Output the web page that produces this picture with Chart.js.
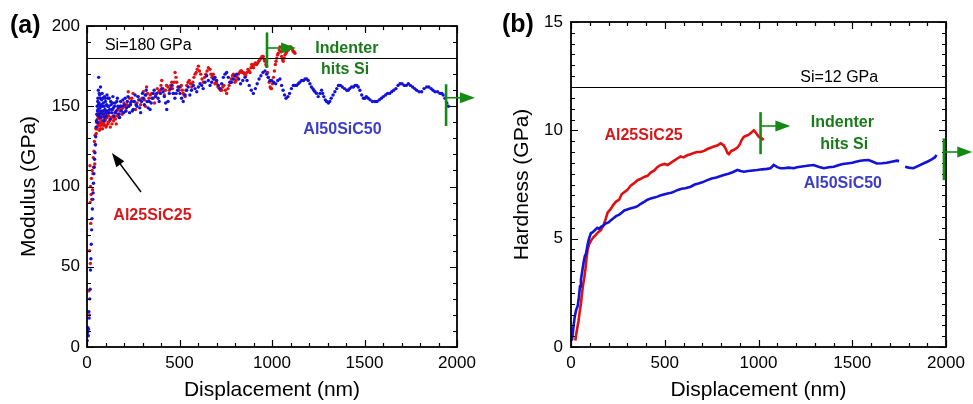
<!DOCTYPE html>
<html>
<head>
<meta charset="utf-8">
<title>Modulus and hardness vs displacement</title>
<script src="https://cdn.jsdelivr.net/npm/chart.js@4.4.1/dist/chart.umd.min.js"></script>
<style>
  body { margin: 0; background: #fff; }
  #wrap { position: relative; width: 973px; height: 404px; overflow: hidden; }
  canvas { position: absolute; top: 0; }
</style>
</head>
<body>
<div id="wrap">
  <canvas id="modChart" width="486" height="404" style="left:0"></canvas>
  <canvas id="hardChart" width="487" height="404" style="left:486px"></canvas>
</div>
<script>
// ---- axes ----
const xTicks = [0, 500, 1000, 1500, 2000];
const modulusTicks = [0, 50, 100, 150, 200];
const hardnessTicks = [0, 5, 10, 15];
const siModulus = 180;   // GPa
const siHardness = 12;   // GPa

// ---- (a) modulus, [displacement nm, GPa] ----
const modulusAl50 = [
  [1,4],[3,9],[5,12],[7,7],[8,11],[10,22],[12,18],[15,30],[17,36],[19,48],[21,55],[23,64],[25,73],[27,80],
  [29,86],[31,92],[33,96],[35,102],[37,108],[39,112],[41,117],[43,121],[45,126],[47,131],[49,137],[51,141],
  [53,145],[55,150],[56,140],[57,147],[58,153],[59,155],[60,148],[61,160],[62,151],[63,168],[64,144],[65,152],
  [66,158],[67,145],[68,150],[69,157],[70,143],[71,149],[72,155],[73,162],[74,147],[76,143],[77,151],[79,154],
  [80,146],[82,158],[83,150],[85,147],[86,155],[88,152],[90,145],[91,141],[93,150],[94,156],[96,143],[97,148],
  [99,155],[100,153],[102,146],[104,144],[106,151],[108,157],[110,147],[112,150],[114,155],[116,146],[118,150],
  [120,155],[122,148],[125,142],[128,153],[130,151],[133,146],[135,148],[138,152],[140,156],[143,149],[146,144],
  [149,150],[152,152],[155,146],[158,147],[161,153],[164,155],[167,150],[170,149],[173,145],[176,143],[179,150],
  [182,153],[186,147],[190,150],[194,154],[198,146],[202,151],[206,155],[210,147],[214,149],[218,153],[222,156],
  [226,150],[230,146],[235,151],[240,153],[245,147],[250,148],[255,153],[260,157],[265,151],[270,150],[275,156],
  [280,154],[285,149],[290,146],[295,153],[300,158],[305,155],[310,151],[315,157],[320,160],[325,153],[330,149],
  [336,153],[341,148],[347,152],[352,155],[358,158],[363,160],[370,156],[377,158],[384,155],[390,153],[397,158],
  [404,161],[411,159],[418,156],[425,152],[431,148],[438,153],[445,158],[452,161],[460,163],[467,158],[475,155],
  [482,158],[490,160],[497,162],[503,158],[511,155],[520,153],[530,157],[539,160],[547,162],[556,157],[565,160],
  [575,163],[584,161],[593,159],[602,162],[611,164],[620,163],[628,161],[638,165],[647,169],[656,166],[665,163],
  [674,165],[683,167],[692,168],[701,166],[710,163],[720,161],[728,164],[737,168],[746,170],[755,171],[764,168],
  [772,165],[781,165],[790,167],[800,169],[809,170],[820,167],[830,164],[842,166],[854,168],[865,166],[877,163],
  [888,160],[899,158],[910,161],[920,164],[930,167],[940,169],[951,171],[962,172],[971,170],[980,168],[989,166],
  [998,166],[1009,165],[1020,164],[1031,166],[1043,167],[1052,163],[1060,160],[1068,157],[1076,155],[1086,156],
  [1095,158],[1105,161],[1115,163],[1124,163],[1133,163],[1142,164],[1150,165],[1160,166],[1170,166],[1179,167],
  [1187,167],[1196,166],[1205,164],[1213,162],[1220,161],[1226,160],[1232,159],[1241,158],[1250,156],[1259,158],
  [1268,160],[1274,158],[1280,156],[1288,154],[1295,153],[1305,152],[1312,153],[1320,155],[1330,157],[1340,159],
  [1350,161],[1359,163],[1370,163],[1380,162],[1392,161],[1404,160],[1412,160],[1420,161],[1430,162],[1440,162],
  [1449,163],[1458,163],[1466,162],[1475,160],[1485,157],[1494,155],[1502,155],[1510,156],[1520,155],[1530,154],
  [1543,153],[1557,153],[1568,153],[1580,154],[1591,155],[1602,156],[1614,157],[1625,158],[1636,158],[1647,159],
  [1658,160],[1670,161],[1681,163],[1692,164],[1703,164],[1715,163],[1726,163],[1737,164],[1748,163],[1760,162],
  [1771,161],[1782,160],[1795,159],[1809,159],[1822,161],[1836,162],[1848,162],[1860,161],[1870,160],[1881,159],
  [1895,159],[1908,158],[1918,158],[1925,157],[1935,155],[1945,152],[1953,150]
];
const modulusAl25 = [
  [10,35],[12,20],[14,60],[16,113],[17,90],[18,52],[19,100],[20,77],[22,95],[24,105],[26,92],[28,110],[30,98],
  [32,108],[34,118],[36,112],[38,122],[40,128],[42,114],[44,132],[46,126],[48,136],[50,133],[52,140],[54,136],
  [55,137],[57,142],[58,144],[60,138],[61,139],[63,143],[64,146],[66,139],[67,135],[69,140],[70,142],[72,136],
  [73,138],[75,143],[76,145],[78,139],[80,141],[82,144],[84,136],[86,140],[88,144],[90,138],[92,139],[94,143],
  [96,147],[98,141],[100,142],[103,137],[105,138],[108,143],[110,145],[113,139],[115,140],[118,144],[120,146],
  [123,141],[126,137],[129,142],[132,143],[135,139],[138,148],[141,144],[144,141],[147,143],[150,146],[154,142],
  [158,139],[162,144],[166,148],[170,145],[174,143],[178,147],[182,150],[186,148],[190,145],[195,149],[200,152],
  [205,150],[210,147],[216,151],[223,150],[223,159],[229,155],[235,152],[242,155],[249,158],[255,153],[262,148],
  [270,152],[277,156],[284,154],[290,151],[297,155],[304,159],[310,154],[315,150],[319,157],[322,162],[328,158],
  [335,155],[342,157],[350,158],[358,155],[365,152],[372,157],[380,161],[388,159],[395,160],[400,163],[404,166],
  [411,161],[418,157],[424,160],[430,163],[438,162],[445,160],[452,163],[458,165],[462,161],[466,158],[471,165],
  [476,171],[481,168],[485,165],[491,162],[497,160],[504,162],[510,163],[515,160],[520,158],[525,157],[530,156],
  [535,160],[539,163],[546,165],[553,166],[560,164],[566,162],[572,165],[578,168],[584,170],[590,171],[596,173],
  [602,175],[608,172],[615,170],[622,167],[629,165],[636,168],[642,170],[649,172],[656,174],[665,173],[670,170],
  [675,168],[679,169],[683,170],[688,167],[692,164],[697,165],[701,164],[708,162],[715,161],[722,160],[728,160],
  [734,162],[740,163],[748,160],[755,158],[762,161],[768,163],[774,165],[780,167],[786,169],[791,170],[796,167],
  [800,165],[806,166],[812,168],[818,170],[825,171],[830,172],[836,172],[840,171],[845,171],[852,170],[858,169],
  [864,171],[870,173],[876,172],[881,171],[886,174],[890,176],[895,175],[900,174],[905,176],[910,177],[917,176],
  [923,177],[928,178],[934,179],[940,180],[946,181],[953,181],[958,179],[962,178],[967,176],[971,175],[976,171],
  [980,168],[985,165],[990,162],[994,161],[998,161],[1003,164],[1008,168],[1013,172],[1018,176],[1022,178],
  [1026,180],[1030,182],[1034,183],[1039,185],[1043,187],[1048,184],[1052,181],[1057,179],[1061,178],[1066,180],
  [1070,182],[1075,183],[1079,184],[1084,185],[1088,185],[1093,186],[1097,187],[1102,187],[1106,186],[1111,185],
  [1115,184],[1120,184],[1124,183]
];

// ---- (b) hardness, [displacement nm, GPa] ----
const hardnessAl50 = [
  [5,0.3],[9,0.6],[14,1.0],[20,1.4],[27,1.7],[36,1.9],[42,2.3],[48,2.8],[53,3.1],[60,3.5],[67,3.9],[74,4.2],
  [80,4.3],[88,4.7],[96,5.0],[106,5.25],[116,5.3],[128,5.4],[140,5.5],[150,5.45],[160,5.55],[172,5.6],[185,5.7],
  [200,5.75],[213,5.85],[228,5.95],[242,6.05],[256,6.1],[270,6.2],[284,6.3],[300,6.35],[320,6.4],[340,6.45],
  [355,6.5],[370,6.6],[390,6.7],[408,6.8],[425,6.85],[445,6.9],[461,6.94],[480,7.0],[500,7.05],[520,7.1],
  [535,7.12],[550,7.17],[570,7.25],[590,7.3],[610,7.33],[638,7.4],[660,7.5],[680,7.55],[700,7.6],[727,7.7],
  [750,7.78],[775,7.82],[795,7.88],[815,7.94],[840,8.0],[865,8.08],[887,8.17],[905,8.12],[922,8.09],[945,8.12],
  [970,8.15],[993,8.17],[1020,8.2],[1045,8.22],[1064,8.25],[1081,8.4],[1100,8.3],[1117,8.25],[1135,8.25],
  [1160,8.28],[1188,8.25],[1205,8.3],[1223,8.32],[1250,8.35],[1270,8.38],[1294,8.4],[1320,8.32],[1348,8.25],
  [1375,8.3],[1401,8.32],[1430,8.4],[1450,8.45],[1472,8.47],[1500,8.5],[1520,8.55],[1543,8.6],[1565,8.62],
  [1587,8.63],[1610,8.55],[1631,8.47],[1660,8.48],[1684,8.5],[1710,8.55],[1738,8.6],[1750,8.58],[1765,null],
  [1782,8.32],[1800,8.28],[1826,8.25],[1850,8.35],[1879,8.47],[1900,8.55],[1924,8.66],[1940,8.75],[1950,8.86]
];
const hardnessAl25 = [
  [23,0.3],[28,0.6],[34,0.9],[40,1.2],[46,1.6],[53,2.0],[59,2.5],[65,2.9],[71,3.2],[77,3.6],[83,4.1],[89,4.5],
  [97,4.75],[106,4.9],[118,5.05],[130,5.15],[145,5.3],[160,5.4],[172,5.6],[185,5.9],[195,6.2],[210,6.35],
  [225,6.55],[239,6.7],[257,6.8],[270,7.05],[285,7.15],[301,7.25],[318,7.45],[335,7.55],[355,7.7],[370,7.75],
  [390,7.85],[408,7.9],[425,8.05],[445,8.15],[460,8.3],[479,8.4],[500,8.45],[515,8.4],[532,8.5],[550,8.6],
  [567,8.7],[585,8.8],[600,8.75],[620,8.85],[638,8.9],[655,8.95],[672,9.0],[691,9.0],[710,9.05],[730,9.15],
  [745,9.2],[762,9.25],[780,9.3],[798,9.4],[807,9.35],[815,9.3],[825,9.15],[835,8.95],[842,8.9],[855,9.05],
  [870,9.1],[887,9.2],[900,9.35],[910,9.55],[922,9.7],[935,9.75],[948,9.8],[962,9.9],[975,10.0],[985,9.9],
  [1002,9.7],[1015,9.65],[1028,9.55]
];

// ---- annotations (data units) ----
const modulusNotes = [
  { text: "Si=180 GPa", x: 97, y: 188, kind: "plain", align: "left" },
  { text: "Indenter", x: 1405, y: 185.7, kind: "green" },
  { text: "hits Si", x: 1395, y: 173, kind: "green" },
  { text: "Al50SiC50", x: 1381, y: 135.2, kind: "blue" },
  { text: "Al25SiC25", x: 354, y: 82, kind: "red" }
];
const hardnessNotes = [
  { text: "Si=12 GPa", x: 1223, y: 12.45, kind: "plain", align: "left" },
  { text: "Indenter", x: 1447, y: 10.35, kind: "green" },
  { text: "hits Si", x: 1457, y: 9.32, kind: "green" },
  { text: "Al50SiC50", x: 1450, y: 7.52, kind: "blue" },
  { text: "Al25SiC25", x: 387, y: 9.78, kind: "red" }
];
// green "indenter hits Si" markers: bar at x from y0..y1, arrow at ay to ax
const modulusMarkers = [
  { x: 973, y0: 174, y1: 196, ay: 186.3, ax: 1130 },
  { x: 1941, y0: 137.7, y1: 163.7, ay: 155.3, ax: 2097 }
];
const hardnessMarkers = [
  { x: 1011, y0: 8.9, y1: 10.84, ay: 10.2, ax: 1170 },
  { x: 1989, y0: 7.7, y1: 9.63, ay: 9.0, ax: 2140 }
];
const modulusPointer = { x0: 292, y0: 96.6, x1: 135, y1: 120.9 };

const RED = "#e01010";
const BLUE = "#1212d8";
const GREEN = "#138a13";
const noteColors = { plain: "#000", green: "#1a7a1a", blue: "#3c3cc8", red: "#d81818" };

Chart.defaults.font.family = "'Liberation Sans', Arial, Helvetica, sans-serif";
Chart.defaults.color = "#000";

const toXY = arr => arr.map(p => ({ x: p[0], y: p[1] }));

function arrowHead(ctx, tx, ty, ang, len, half) {
  ctx.beginPath();
  ctx.moveTo(tx, ty);
  ctx.lineTo(tx - len * Math.cos(ang) + half * Math.sin(ang), ty - len * Math.sin(ang) - half * Math.cos(ang));
  ctx.lineTo(tx - len * Math.cos(ang) - half * Math.sin(ang), ty - len * Math.sin(ang) + half * Math.cos(ang));
  ctx.closePath();
  ctx.fill();
}

// frame with inward ticks on all four sides, plus notes and markers
const decor = {
  id: "decor",
  afterDraw(chart, args, o) {
    const { ctx, chartArea: a, scales: { x, y } } = chart;
    ctx.save();

    // reference line for Si
    const ys = Math.round(y.getPixelForValue(o.siLine)) + 0.5;
    ctx.strokeStyle = "#000";
    ctx.lineWidth = 1.2;
    ctx.beginPath(); ctx.moveTo(a.left, ys); ctx.lineTo(a.right, ys); ctx.stroke();

    // ticks
    ctx.lineWidth = 1.2;
    const nx = Math.round((x.max - x.min) / o.xMinor);
    for (let i = 0; i <= nx; i++) {
      const px = Math.round(x.getPixelForValue(x.min + i * o.xMinor)) + 0.5;
      const len = i % o.xEvery === 0 ? 7 : 4;
      ctx.beginPath();
      ctx.moveTo(px, a.bottom); ctx.lineTo(px, a.bottom - len);
      ctx.moveTo(px, a.top); ctx.lineTo(px, a.top + len);
      ctx.stroke();
    }
    const ny = Math.round((y.max - y.min) / o.yMinor);
    for (let i = 0; i <= ny; i++) {
      const py = Math.round(y.getPixelForValue(y.min + i * o.yMinor)) + 0.5;
      const len = i % o.yEvery === 0 ? 7 : 4;
      ctx.beginPath();
      ctx.moveTo(a.left, py); ctx.lineTo(a.left + len, py);
      ctx.moveTo(a.right, py); ctx.lineTo(a.right - len, py);
      ctx.stroke();
    }
    ctx.lineWidth = 1.8;
    ctx.strokeRect(a.left, a.top, a.right - a.left, a.bottom - a.top);

    // notes
    ctx.textBaseline = "middle";
    o.notes.forEach(n => {
      ctx.font = (n.kind === "plain" ? "" : "bold ") + "16px 'Liberation Sans', Arial, sans-serif";
      ctx.fillStyle = noteColors[n.kind];
      ctx.textAlign = n.align || "center";
      ctx.fillText(n.text, x.getPixelForValue(n.x), y.getPixelForValue(n.y));
    });

    // green markers
    ctx.strokeStyle = GREEN;
    ctx.fillStyle = GREEN;
    o.markers.forEach(m => {
      const px = x.getPixelForValue(m.x);
      const py = y.getPixelForValue(m.ay);
      const tip = x.getPixelForValue(m.ax);
      ctx.lineWidth = 2.6;
      ctx.beginPath();
      ctx.moveTo(px, y.getPixelForValue(m.y0));
      ctx.lineTo(px, y.getPixelForValue(m.y1));
      ctx.stroke();
      ctx.lineWidth = 1.6;
      ctx.beginPath();
      ctx.moveTo(px, py); ctx.lineTo(tip - 12, py);
      ctx.stroke();
      arrowHead(ctx, tip, py, 0, 15, 5.5);
    });

    // black pointer arrow
    if (o.pointer) {
      const p = o.pointer;
      const x0 = x.getPixelForValue(p.x0), y0 = y.getPixelForValue(p.y0);
      const x1 = x.getPixelForValue(p.x1), y1 = y.getPixelForValue(p.y1);
      const ang = Math.atan2(y1 - y0, x1 - x0);
      ctx.strokeStyle = "#000";
      ctx.fillStyle = "#000";
      ctx.lineWidth = 1.4;
      ctx.beginPath();
      ctx.moveTo(x0, y0);
      ctx.lineTo(x1 - 10 * Math.cos(ang), y1 - 10 * Math.sin(ang));
      ctx.stroke();
      arrowHead(ctx, x1, y1, ang, 14, 5);
    }

    // panel letter
    ctx.fillStyle = "#000";
    ctx.textAlign = "left";
    ctx.font = "bold 25px 'Liberation Sans', Arial, sans-serif";
    ctx.fillText(o.letter, a.left + o.letterDx, a.top + o.letterDy);
    ctx.restore();
  }
};

function makeOptions(cfg) {
  return {
    responsive: false,
    animation: false,
    devicePixelRatio: 1,
    layout: { padding: { top: cfg.padTop, right: cfg.padRight, left: 0, bottom: 0 } },
    plugins: {
      legend: { display: false },
      tooltip: { enabled: false },
      decor: cfg.decor
    },
    scales: {
      x: {
        type: "linear",
        min: 0, max: 2000,
        afterBuildTicks: s => { s.ticks = xTicks.map(v => ({ value: v })); },
        afterFit: s => { s.height = 57; },
        grid: { display: false, drawTicks: false },
        border: { display: false },
        ticks: { font: { size: 17 }, padding: 6, maxRotation: 0, color: "#000", callback: v => String(v) },
        title: {
          display: true, text: "Displacement (nm)", color: "#000",
          font: { size: 21, lineHeight: 1.2 }, padding: { top: 0, bottom: 1 }
        }
      },
      y: {
        type: "linear",
        min: cfg.yMin, max: cfg.yMax,
        afterBuildTicks: s => { s.ticks = cfg.yTicks.map(v => ({ value: v })); },
        afterFit: s => { s.width = cfg.yWidth; },
        grid: { display: false, drawTicks: false },
        border: { display: false },
        ticks: { font: { size: 17 }, padding: cfg.yTickPad, color: "#000", callback: v => String(v) },
        title: {
          display: true, text: cfg.yTitle, color: "#000",
          font: { size: 21, lineHeight: 1.2 }, padding: { top: cfg.yTitlePad, bottom: 0 }
        }
      }
    }
  };
}

new Chart(document.getElementById("modChart"), {
  type: "scatter",
  data: {
    datasets: [
      { label: "Al50SiC50", data: toXY(modulusAl50), backgroundColor: BLUE, borderWidth: 0, pointRadius: 1.7 },
      { label: "Al25SiC25", data: toXY(modulusAl25), backgroundColor: RED, borderWidth: 0, pointRadius: 1.7 }
    ]
  },
  options: makeOptions({
    padTop: 26, padRight: 29, yWidth: 87, yTickPad: 7, yTitlePad: 17,
    yMin: 0, yMax: 200, yTicks: modulusTicks, yTitle: "Modulus (GPa)",
    decor: {
      siLine: siModulus, xMinor: 100, xEvery: 5, yMinor: 10, yEvery: 5,
      notes: modulusNotes, markers: modulusMarkers, pointer: modulusPointer,
      letter: "(a)", letterDx: -77, letterDy: 0
    }
  }),
  plugins: [decor]
});

new Chart(document.getElementById("hardChart"), {
  type: "scatter",
  data: {
    datasets: [
      { label: "Al50SiC50", data: toXY(hardnessAl50), showLine: true, borderColor: BLUE, backgroundColor: BLUE,
        borderWidth: 2.6, pointRadius: 0, spanGaps: false },
      { label: "Al25SiC25", data: toXY(hardnessAl25), showLine: true, borderColor: RED, backgroundColor: RED,
        borderWidth: 2.6, pointRadius: 0 }
    ]
  },
  options: makeOptions({
    padTop: 22, padRight: 27, yWidth: 85, yTickPad: 8, yTitlePad: 24,
    yMin: 0, yMax: 15, yTicks: hardnessTicks, yTitle: "Hardness (GPa)",
    decor: {
      siLine: siHardness, xMinor: 100, xEvery: 5, yMinor: 0.5, yEvery: 10,
      notes: hardnessNotes, markers: hardnessMarkers, pointer: null,
      letter: "(b)", letterDx: -69, letterDy: 3
    }
  }),
  plugins: [decor]
});
</script>
</body>
</html>
